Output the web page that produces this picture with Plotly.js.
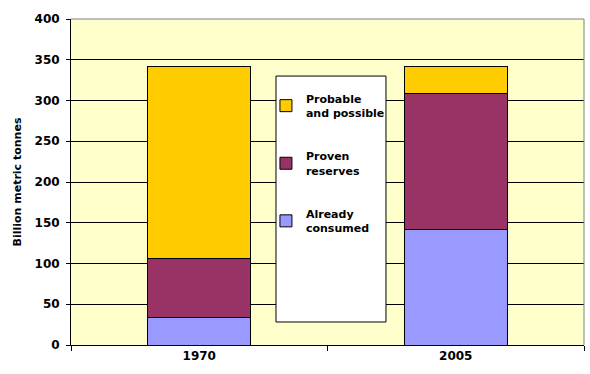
<!DOCTYPE html>
<html>
<head>
<meta charset="utf-8">
<script src="https://cdn.plot.ly/plotly-3.0.1.min.js"></script>
<style>html,body{margin:0;padding:0;background:#fff;}#chart{width:590px;height:374px;}</style>
</head>
<body>
<div id="chart"></div>
<script>
const years = ["1970", "2005"];
const alreadyConsumed = [34, 142];
const provenReserves = [72, 166];
const probablePossible = [236, 34];
const seriesNames = ["Already<br>consumed", "Proven<br>reserves", "Probable<br>and possible"];
const seriesColors = ["#9999FF", "#993366", "#FFCC00"];
const yTicks = [0, 50, 100, 150, 200, 250, 300, 350, 400];

const FONT = "DejaVu Sans, Verdana, sans-serif";
const seriesValues = [alreadyConsumed, provenReserves, probablePossible];
const data = seriesValues.map((vals, i) => ({
  type: "bar",
  x: years,
  y: vals,
  name: seriesNames[i],
  legendgroup: "g" + i,
  legendrank: 3 - i,
  marker: {color: seriesColors[i], line: {color: "#000", width: 1}},
  hoverinfo: "none"
}));

const layout = {
  width: 590, height: 374,
  margin: {l: 71, r: 6, t: 19, b: 29, pad: 0},
  paper_bgcolor: "#ffffff",
  plot_bgcolor: "#FFFFCC",
  barmode: "stack",
  bargap: 0.6,
  font: {family: FONT, size: 12, color: "#000"},
  showlegend: true,
  legend: {
    x: 0.380, xanchor: "left", y: 0.798, yanchor: "top",
    bgcolor: "rgba(0,0,0,0)", borderwidth: 0,
    traceorder: "grouped", tracegroupgap: 26,
    font: {family: FONT, size: 11, color: "#000", weight: "bold"}
  },
  xaxis: {
    type: "category",
    tickson: "boundaries",
    ticks: "outside", ticklen: 5, tickcolor: "#000", tickwidth: 1,
    showline: true, linecolor: "#000", linewidth: 1,
    showgrid: false,
    tickfont: {family: FONT, size: 12, color: "#000", weight: "bold"},
    fixedrange: true
  },
  yaxis: {
    range: [0, 400],
    tickvals: yTicks,
    ticktext: yTicks.map(String),
    ticks: "outside", ticklen: 4, tickcolor: "#000", tickwidth: 1,
    ticklabelstandoff: 4,
    showline: true, linecolor: "#000", linewidth: 1,
    showgrid: true, gridcolor: "#000", gridwidth: 1,
    zeroline: false,
    tickfont: {family: FONT, size: 12, color: "#000", weight: "bold"},
    title: {text: "Billion metric tonnes", standoff: 10, font: {family: FONT, size: 11, color: "#000", weight: "bold"}},
    fixedrange: true
  },
  shapes: [
    {type: "path", xref: "paper", yref: "paper", path: "M0,1 L1,1 L1,0", line: {color: "#808080", width: 1}, layer: "above"},
    {type: "rect", xref: "paper", yref: "paper", x0: 0.3996, x1: 0.614, y0: 0.0706, y1: 0.825, fillcolor: "#ffffff", line: {color: "#000", width: 1}, layer: "above"}
  ]
};

Plotly.newPlot("chart", data, layout, {displayModeBar: false, staticPlot: true});
</script>
</body>
</html>
